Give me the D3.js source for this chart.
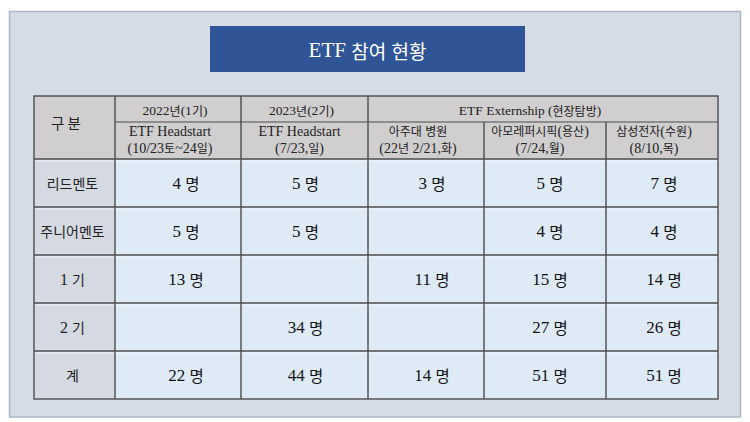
<!DOCTYPE html>
<html>
<head>
<meta charset="utf-8">
<script src="https://cdn.jsdelivr.net/npm/d3@7"></script>
<style>
  html, body { margin: 0; padding: 0; background: #fff; }
  svg { display: block; }
</style>
</head>
<body>
<svg width="750" height="422"></svg>
<script>
// 표 내용
const title = "ETF 참여 현황";
const cornerLabel = "구 분";
const groupHeaders = [
  {label: "2022년(1기)", span: 1},
  {label: "2023년(2기)", span: 1},
  {label: "ETF Externship (현장탐방)", span: 3}
];
const events = ["ETF Headstart", "ETF Headstart", "아주대 병원", "아모레퍼시픽(용산)", "삼성전자(수원)"];
const eventDates = ["(10/23토~24일)", "(7/23,일)", "(22년 2/21,화)", "(7/24,월)", "(8/10,목)"];
const rowLabels = ["리드멘토", "주니어멘토", "1 기", "2 기", "계"];
const counts = [
  [4, 5, 3, 5, 7],
  [5, 5, null, 4, 4],
  [13, null, 11, 15, 14],
  [null, 34, null, 27, 26],
  [22, 44, 14, 51, 51]
];
const unit = "명";

const svg = d3.select("svg");
const serif = "'Liberation Serif','DejaVu Serif','Noto Sans CJK KR',serif";
const sans = "'Noto Sans CJK KR','Noto Sans',sans-serif";

// 한글과 라틴 글자 크기를 따로 (원본은 한글이 더 작게 보임)
function mixed(sel, str, latin, hangul) {
  str.split(/([\u3131-\uD7A3]+)/).filter(s => s.length).forEach(s => {
    const isH = /[\u3131-\uD7A3]/.test(s);
    sel.append("tspan")
      .style("font-family", isH ? sans : serif)
      .style("font-size", (isH ? hangul : latin) + "px")
      .text(s);
  });
}

// 배경 패널
svg.append("rect")
  .attr("x", 9.5).attr("y", 11.5)
  .attr("width", 731).attr("height", 405.5)
  .attr("fill", "#d6dce5")
  .attr("stroke", "#aab6c8")
  .attr("stroke-width", 1.5);

// 제목 상자
svg.append("rect")
  .attr("x", 210).attr("y", 26)
  .attr("width", 315).attr("height", 46)
  .attr("fill", "#2f5597");
svg.append("text")
  .attr("x", 367.5).attr("y", 50)
  .attr("text-anchor", "middle")
  .attr("dominant-baseline", "central")
  .attr("fill", "#fff")
  .call(mixed, title, 21, 19);

// 열 경계 (0 = 구분 열)
const colEdge = d3.scaleLinear()
  .domain([0, 1, 2, 3, 4, 5, 6])
  .range([34, 115, 241, 368, 484, 606, 718]);
const colMid = i => (colEdge(i) + colEdge(i + 1)) / 2;

const headTop = 96, headMid = 122, headBottom = 159;
const y = d3.scaleBand()
  .domain(rowLabels)
  .range([headBottom, 399]);

const g = svg.append("g");

// 셀 배경
g.append("rect")
  .attr("x", colEdge(0)).attr("y", headTop)
  .attr("width", colEdge(6) - colEdge(0)).attr("height", headBottom - headTop)
  .attr("fill", "#d0cece");
g.selectAll("rect.rowlab")
  .data(rowLabels)
  .join("rect")
  .attr("class", "rowlab")
  .attr("x", colEdge(0)).attr("y", d => y(d))
  .attr("width", colEdge(1) - colEdge(0)).attr("height", y.bandwidth())
  .attr("fill", "#d5d9e2");
g.append("rect")
  .attr("x", colEdge(1)).attr("y", headBottom)
  .attr("width", colEdge(6) - colEdge(1)).attr("height", 399 - headBottom)
  .attr("fill", "#deebf7");

// 격자선
const dark = "#4d4d4d";
const hLines = [headBottom, ...rowLabels.slice(1).map(d => y(d))];
g.selectAll("line.hl")
  .data(hLines)
  .join("line")
  .attr("class", "hl")
  .attr("x1", colEdge(0)).attr("x2", colEdge(6))
  .attr("y1", d => d + 2).attr("y2", d => d + 2)
  .attr("stroke", "#f4f6fa").attr("stroke-width", 1.2);
g.selectAll("line.hd")
  .data(hLines)
  .join("line")
  .attr("class", "hd")
  .attr("x1", colEdge(0)).attr("x2", colEdge(6))
  .attr("y1", d => d).attr("y2", d => d)
  .attr("stroke", dark).attr("stroke-width", 1.4);
// 헤더 중간선 (구분 열 제외)
g.append("line")
  .attr("x1", colEdge(1)).attr("x2", colEdge(6))
  .attr("y1", headMid).attr("y2", headMid)
  .attr("stroke", dark).attr("stroke-width", 1.2);
// 세로선
const vCols = d3.range(1, 6);
g.selectAll("line.v")
  .data(vCols)
  .join("line")
  .attr("class", "v")
  .attr("x1", d => colEdge(d)).attr("x2", d => colEdge(d))
  .attr("y1", d => d >= 4 ? headMid : headTop)
  .attr("y2", 399)
  .attr("stroke", dark).attr("stroke-width", 1.4);
// 바깥 테두리
g.append("rect")
  .attr("x", colEdge(0)).attr("y", headTop)
  .attr("width", colEdge(6) - colEdge(0)).attr("height", 399 - headTop)
  .attr("fill", "none")
  .attr("stroke", dark).attr("stroke-width", 1.4);

// 헤더 글자
g.append("text")
  .attr("x", 66).attr("y", headMid)
  .attr("text-anchor", "middle").attr("dominant-baseline", "central")
  .attr("fill", "#222")
  .style("font-family", sans).style("font-size", "14.5px")
  .text(cornerLabel);

let start = 1;
groupHeaders.forEach(h => {
  const cx = (colEdge(start) + colEdge(start + h.span)) / 2 - (h.span > 1 ? 13 : 3);
  g.append("text")
    .attr("x", cx).attr("y", (headTop + headMid) / 2 + 1)
    .attr("text-anchor", "middle").attr("dominant-baseline", "central")
    .attr("fill", "#222")
    .call(mixed, h.label, 13.5, 12);
  start += h.span;
});

// 행사명 + 날짜: 한 셀에 두 줄
const headDx = [-8, -5, -8, -5, -8];
g.selectAll("text.ev")
  .data(events.map((e, i) => ({lines: [e, eventDates[i]], x: colMid(i + 1) + headDx[i]})))
  .join("text")
  .attr("class", "ev")
  .attr("text-anchor", "middle")
  .attr("fill", "#222")
  .each(function(d) {
    const t = d3.select(this);
    d.lines.forEach((line, k) => {
      const ts = t.append("tspan")
        .attr("x", d.x)
        .attr("y", k === 0 ? 135.5 : 153);
      mixed(ts, line, 14, 12);
    });
  });

// 행 제목
g.selectAll("text.rl")
  .data(rowLabels)
  .join("text")
  .attr("class", "rl")
  .attr("x", colMid(0) - 2).attr("y", d => y(d) + y.bandwidth() / 2)
  .attr("text-anchor", "middle").attr("dominant-baseline", "central")
  .attr("fill", "#222")
  .each(function(d) { mixed(d3.select(this), d, 16, 14); });

// 값
const valDx = [8, 1, 6, 5, 2];
const cells = [];
counts.forEach((row, r) => row.forEach((v, c) => {
  if (v != null) cells.push({row: rowLabels[r], col: c, v});
}));
g.selectAll("text.val")
  .data(cells)
  .join("text")
  .attr("class", "val")
  .attr("x", d => colMid(d.col + 1) + valDx[d.col])
  .attr("y", d => y(d.row) + y.bandwidth() / 2)
  .attr("text-anchor", "middle").attr("dominant-baseline", "central")
  .attr("fill", "#111")
  .each(function(d) { mixed(d3.select(this), `${d.v} ${unit}`, 17, 15.5); });
</script>
</body>
</html>
